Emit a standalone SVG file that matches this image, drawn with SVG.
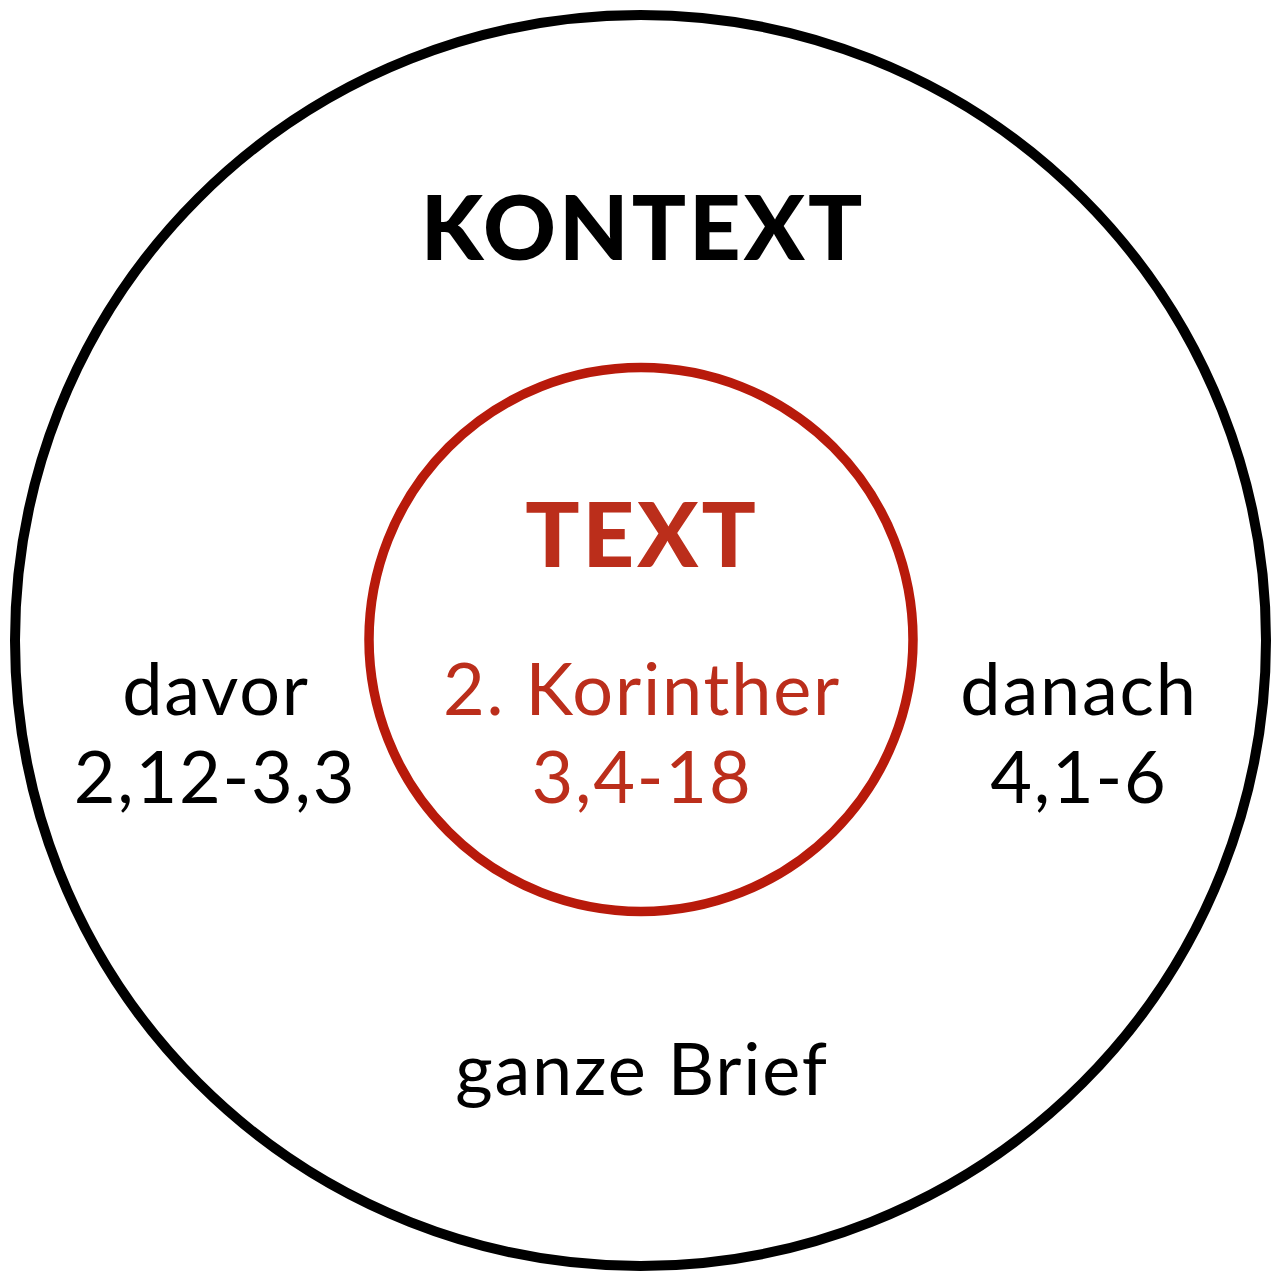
<svg xmlns="http://www.w3.org/2000/svg" width="1281" height="1274" viewBox="0 0 1281 1274">
<style>
.t{font-family:Lato,"Open Sans","Liberation Sans",sans-serif;text-anchor:middle}
.h{font-weight:900;font-size:90px;letter-spacing:3px}
.n{font-size:72px;fill:#000;letter-spacing:1.8px}
.r{fill:#bb2e1b}
</style>
<rect width="1281" height="1274" fill="#fff"/>
<g id="kontext">
<circle cx="640.5" cy="640.5" r="625.5" fill="none" stroke="#000" stroke-width="10"/>
<text class="t h" x="643" y="260">KONTEXT</text>
</g>
<g id="text">
<circle cx="641" cy="639.5" r="272" fill="none" stroke="#b81a0b" stroke-width="9.5"/>
<text class="t h r" x="642" y="567">TEXT</text>
<text class="t n r" x="642" y="715">2. Korinther</text>
<text class="t n r" x="642" y="803">3,4-18</text>
</g>
<g id="davor">
<text class="t n" x="216" y="715">davor</text>
<text class="t n" x="215" y="803">2,12-3,3</text>
</g>
<g id="danach">
<text class="t n" x="1079" y="715">danach</text>
<text class="t n" x="1079" y="803">4,1-6</text>
</g>
<g id="brief">
<text class="t n" x="642" y="1095">ganze Brief</text>
</g>
<g id="connectors"/>
</svg>
